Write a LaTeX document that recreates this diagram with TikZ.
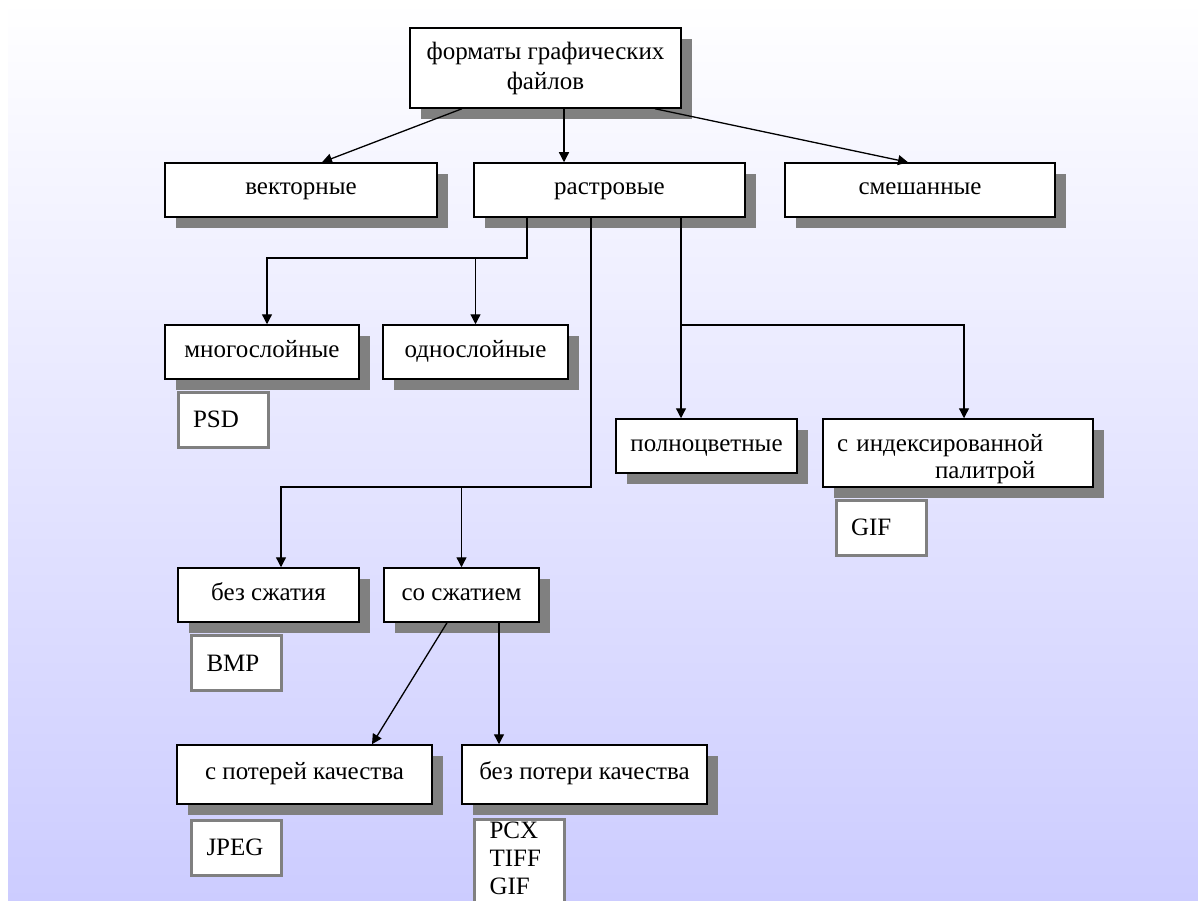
\documentclass[tikz,border=0pt]{standalone}
\usepackage{fontspec}
\setmainfont{Liberation Serif}
\usetikzlibrary{arrows.meta,shadows}
\definecolor{lavanda}{RGB}{204,204,255}

\begin{document}
\begin{tikzpicture}[x=1pt,y=-1pt,
    blocco/.style={draw, fill=white, line width=1.5pt, inner sep=0pt, minimum height=54pt,
        text height=15pt, text depth=5pt, font=\fontsize{25}{30}\selectfont,
        drop shadow={shadow xshift=11pt, shadow yshift=-11pt, fill=black!50, opacity=1}},
    formato/.style={draw=black!50, fill=white, line width=3pt, inner xsep=15pt, inner ysep=0pt,
        text width=60pt, align=left, minimum height=55pt, font=\fontsize{25}{30}\selectfont},
    freccia/.style={-{Triangle[length=10pt,width=10pt]}, line width=1.3pt}]

    % Sfondo
    \clip (0,0) rectangle (1198,901);
    \fill[white] (0,0) rectangle (1198,901);
    \shade[top color=white, bottom color=lavanda] (8,0) rectangle (1198,901);

    % Blocchi
    \node[blocco, minimum width=271pt, minimum height=80pt, align=center, text height=, text depth=] (formati) at (545.5,68) {форматы графических\\файлов};
    \node[blocco, minimum width=272pt] (vettoriali) at (301,190) {векторные};
    \node[blocco, minimum width=271pt] (raster) at (609.5,190) {растровые};
    \node[blocco, minimum width=270pt] (misti) at (920,190) {смешанные};
    \node[blocco, minimum width=194pt] (multi) at (262,352) {многослойные};
    \node[blocco, minimum width=185pt] (mono) at (475.5,352) {однослойные};
    \node[blocco, minimum width=181pt] (pieni) at (706.5,446) {полноцветные};
    \node[blocco, minimum width=270pt, minimum height=68pt, text width=242pt, align=left,
        inner xsep=14pt, text height=, text depth=, font=\fontsize{25}{27}\selectfont] (indicizzati) at (958,453)
        {\rule{0pt}{30pt}с индексированной\\\hspace*{98pt}палитрой};
    \node[blocco, minimum width=181pt] (nocomp) at (268.5,595) {без сжатия};
    \node[blocco, minimum width=155pt] (comp) at (461.5,595) {со сжатием};
    \node[blocco, minimum width=255pt, minimum height=59pt] (perdita) at (304.5,774.5) {с потерей качества};
    \node[blocco, minimum width=245pt, minimum height=59pt] (senza) at (584.5,774.5) {без потери качества};

    % Formati
    \node[formato] (psd) at (223,419.5) {PSD};
    \node[formato] (gif) at (881,527.5) {GIF};
    \node[formato] (bmp) at (236.5,663) {BMP};
    \node[formato] (jpeg) at (236.5,847.5) {JPEG};
    \node[formato, anchor=north, minimum height=0pt, inner ysep=2pt, font=\fontsize{25}{28}\selectfont] (altri) at (519.5,818) {PCX\\TIFF\\GIF\rule[-25pt]{0pt}{0pt}};

    % Punti di diramazione
    \coordinate (j1) at (527,258);
    \coordinate (j2) at (591,487);
    \coordinate (j3) at (681,325);

    % Frecce dal titolo
    \draw[freccia] ([xshift=-83.5pt]formati.south) -- ([xshift=21pt]vettoriali.north);
    \draw[freccia] ([xshift=18.5pt]formati.south) -- ([xshift=-45.5pt]raster.north);
    \draw[freccia] ([xshift=109.5pt]formati.south) -- ([xshift=-12pt]misti.north);

    % Frecce dai raster
    \draw[freccia] (raster.south -| j1) -- (j1) -| ([xshift=5pt]multi.north);
    \draw[freccia] (j1 -| mono.north) -- (mono.north);
    \draw[freccia] (raster.south -| j2) -- (j2) -| ([xshift=12.5pt]nocomp.north);
    \draw[freccia] (j2 -| comp.north) -- (comp.north);
    \draw[freccia] (raster.south -| j3) -- (pieni.north -| j3);
    \draw[freccia] (j3) -| ([xshift=6pt]indicizzati.north);

    % Frecce dalla compressione
    \draw[freccia] ([xshift=-14.5pt]comp.south) -- ([xshift=67.5pt]perdita.north);
    \draw[freccia] ([xshift=37.5pt]comp.south) -- ([xshift=37.5pt]comp.south |- senza.north);
\end{tikzpicture}
\end{document}
